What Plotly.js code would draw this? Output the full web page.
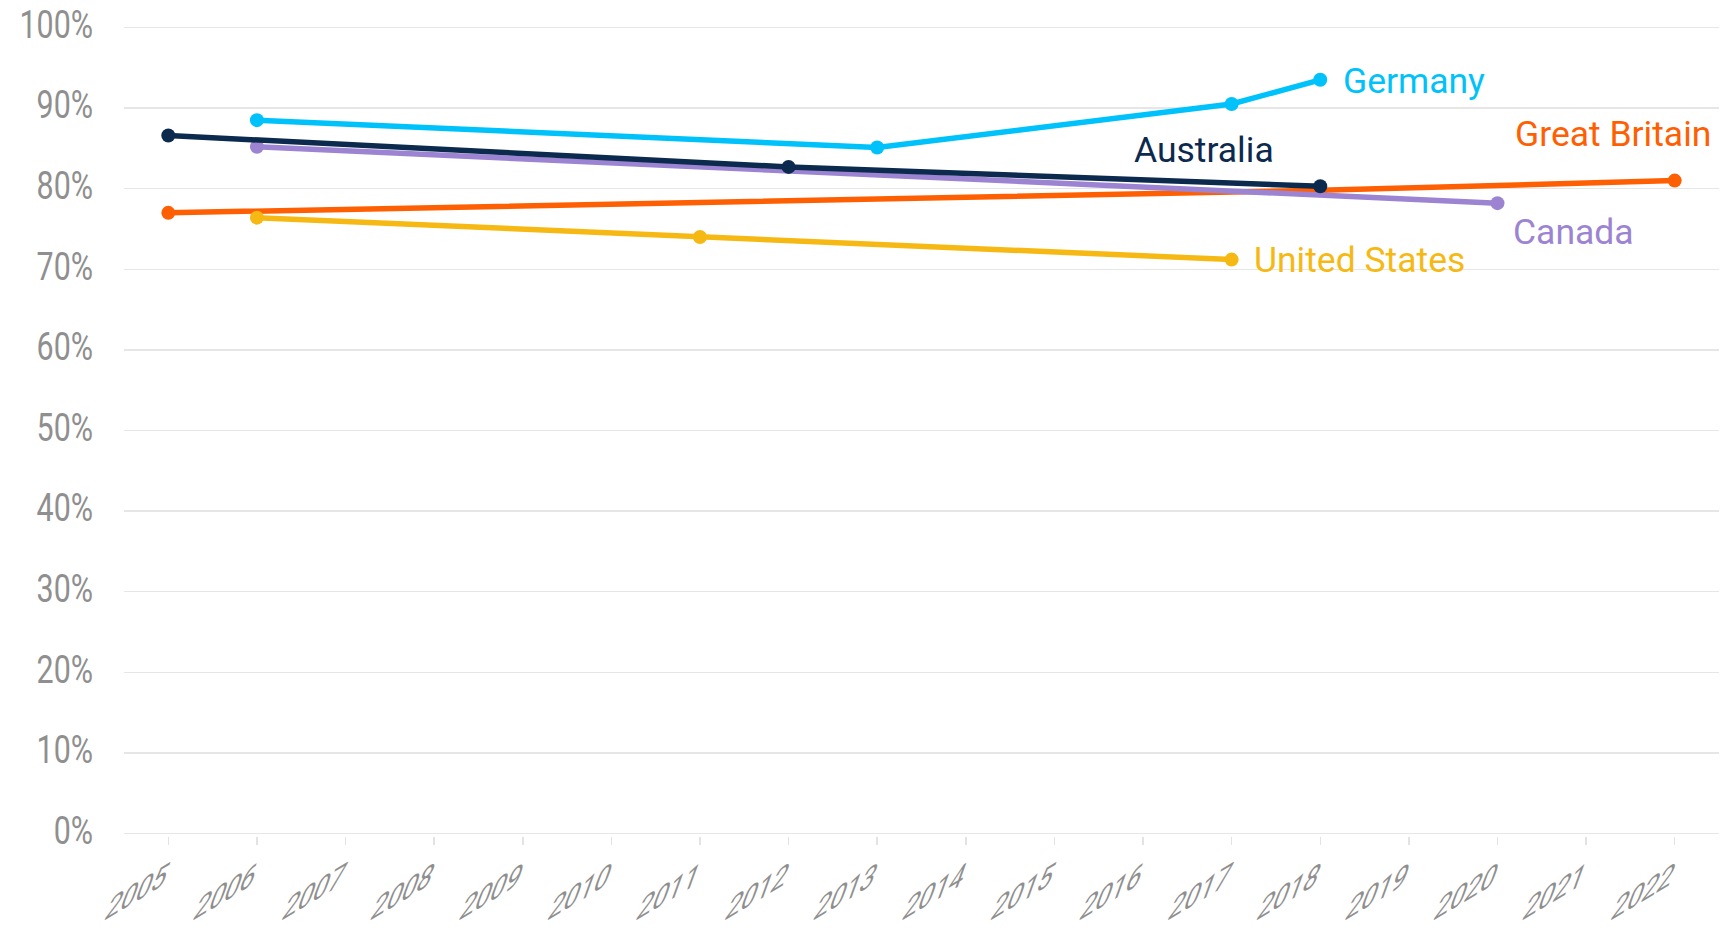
<!DOCTYPE html>
<html>
<head>
<meta charset="utf-8">
<script src="https://cdn.plot.ly/plotly-3.0.1.min.js"></script>
<style>
  html, body { margin: 0; padding: 0; background: #ffffff; }
  #chart { width: 1732px; height: 931px; }
</style>
</head>
<body>
<div id="chart"></div>
<script>
// ---- Data (in %) ----
const countries = ["Great Britain", "United States", "Canada", "Australia", "Germany"];

const gbYears = [2005, 2018, 2022];
const gbValues = [77.0, 79.8, 81.0];

const usYears = [2006, 2011, 2017];
const usValues = [76.4, 74.0, 71.2];

const caYears = [2006, 2020];
const caValues = [85.2, 78.2];

const auYears = [2005, 2012, 2018];
const auValues = [86.6, 82.7, 80.3];

const deYears = [2006, 2013, 2017, 2018];
const deValues = [88.5, 85.1, 90.5, 93.5];

const yearTicks = [2005, 2006, 2007, 2008, 2009, 2010, 2011, 2012, 2013, 2014,
                   2015, 2016, 2017, 2018, 2019, 2020, 2021, 2022];
const pctTicks = [0, 10, 20, 30, 40, 50, 60, 70, 80, 90, 100];
const pctLabels = ["0%", "10%", "20%", "30%", "40%", "50%", "60%", "70%", "80%", "90%", "100%"];

// ---- Styles ----
const colors = {
  "Great Britain": "#ff5f03",
  "United States": "#f6b914",
  "Canada": "#9c84d2",
  "Australia": "#0c2a4d",
  "Germany": "#00c2fb"
};
const seriesData = {
  "Great Britain": [gbYears, gbValues],
  "United States": [usYears, usValues],
  "Canada": [caYears, caValues],
  "Australia": [auYears, auValues],
  "Germany": [deYears, deValues]
};
// label placement relative to the last point of each series (pixels)
const labelOffsets = {
  "Great Britain": {xanchor: "right", xshift: 38, yshift: 47},
  "United States": {xanchor: "left", xshift: 20, yshift: 0},
  "Canada": {xanchor: "left", xshift: 14, yshift: -29},
  "Australia": {xanchor: "right", xshift: -44, yshift: 36},
  "Germany": {xanchor: "left", xshift: 21, yshift: -1}
};

const traces = countries.map(name => ({
  type: "scatter",
  mode: "lines+markers",
  name: name,
  x: seriesData[name][0],
  y: seriesData[name][1],
  line: {color: colors[name], width: 5.5},
  marker: {color: colors[name], size: 14},
  hoverinfo: "x+y+name"
}));

const annotations = countries.map(name => {
  const xs = seriesData[name][0], ys = seriesData[name][1];
  const o = labelOffsets[name];
  return {
    x: xs[xs.length - 1], y: ys[ys.length - 1],
    xref: "x", yref: "y",
    text: name, showarrow: false,
    xanchor: o.xanchor, yanchor: "middle",
    xshift: o.xshift, yshift: o.yshift,
    font: {family: "Roboto, 'Noto Sans', sans-serif", size: 35.5, color: colors[name]}
  };
});

const yTickFont = {family: "Roboto, 'Noto Sans', sans-serif", size: 38, color: "#8f8f8f"};
const xTickFont = {family: "Roboto, 'Noto Sans', sans-serif", size: 36, color: "#8f8f8f"};

const layout = {
  width: 1732, height: 931,
  paper_bgcolor: "#ffffff", plot_bgcolor: "#ffffff",
  margin: {l: 124, r: 13, t: 25, b: 95},
  showlegend: false,
  xaxis: {
    range: [2004.5, 2022.5],
    tickmode: "array", tickvals: yearTicks, ticktext: yearTicks.map(String),
    tickangle: 0,
    tickfont: xTickFont,
    showgrid: false, zeroline: false,
    showline: false,
    ticks: "outside", ticklen: 8, tickwidth: 1.5, tickcolor: "#e3e3e3"
  },
  yaxis: {
    range: [-0.3, 100.3],
    tickmode: "array", tickvals: pctTicks, ticktext: pctLabels,
    tickfont: yTickFont,
    showgrid: true, gridcolor: "#e6e6e6", gridwidth: 1.5,
    zeroline: false, showline: false,
    ticks: "", ticklabelstandoff: 30
  },
  annotations: annotations
};

// Tick-label styling: the reference uses a condensed face, and its year labels
// are slanted (baseline rising ~31deg, glyph stems leaning ~70deg).
function styleTicks(gd) {
  gd.querySelectorAll(".ytick text").forEach(t => {
    const x = +t.getAttribute("x") || 0, y = +t.getAttribute("y") || 0;
    const tr = t.getAttribute("transform") || "";
    t.setAttribute("transform",
      tr + " translate(0,-3) translate(" + x + "," + y + ") scale(0.8,1) translate(" + (-x) + "," + (-y) + ")");
  });
  const xa = gd._fullLayout.xaxis, off = gd._fullLayout._size.l;
  const base = 31 * Math.PI / 180, stem = 70 * Math.PI / 180;
  const sx = 0.87, sy = 1.0;
  const a = sx * Math.cos(base), b = -sx * Math.sin(base);
  const c = -sy * Math.cos(stem), d = sy * Math.sin(stem);
  gd.querySelectorAll(".xtick text").forEach(t => {
    const yr = parseFloat(t.textContent);
    const X = off + xa.l2p(yr) - 5, Y = 885;
    t.setAttribute("x", 0);
    t.setAttribute("y", 0);
    t.setAttribute("text-anchor", "end");
    t.setAttribute("transform",
      "translate(" + X + "," + Y + ") matrix(" + [a, b, c, d, 0, 0].join(",") + ")");
  });
}

Plotly.newPlot("chart", traces, layout, {displayModeBar: false, staticPlot: true})
  .then(styleTicks);
</script>
</body>
</html>
